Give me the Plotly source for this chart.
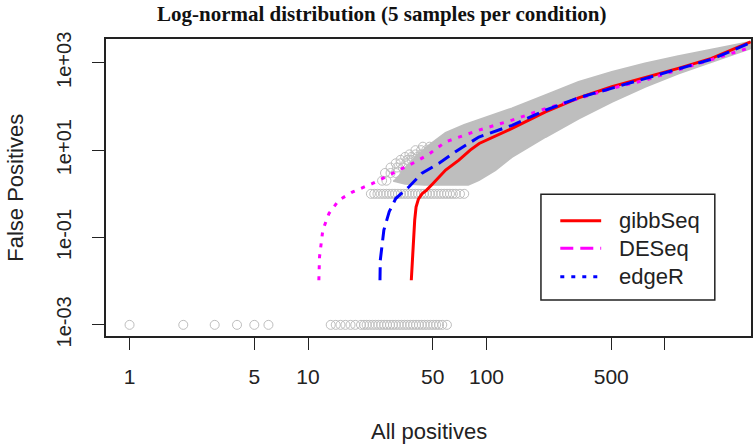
import plotly.graph_objects as go

# ---------------- data ----------------
# method curves: all positives (x) vs mean false positives (y)
gibb_x = [37.9, 38.2, 38.5, 39.0, 39.6, 40.3, 41.5, 43.5, 46, 50, 59, 70, 81, 91, 139, 214, 328, 504, 773, 1186, 1822, 3020]
gibb_y = [0.0105, 0.02, 0.05, 0.12, 0.25, 0.5, 0.75, 1.0, 1.2, 1.7, 3.5, 5.9, 10, 14.2, 31.4, 75, 158, 282, 450, 744, 1260, 3020]

edger_x = [25.3, 25.4, 26.6, 28.5, 31, 36.8, 43.5, 54.2, 67, 90.6, 139, 214, 328, 504, 773, 1186, 1822, 3020]
edger_y = [0.0105, 0.03, 0.148, 0.39, 0.78, 1.45, 2.95, 5.0, 9.2, 20, 37, 82, 158, 260, 440, 710, 1200, 2900]

deseq_x = [11.5, 11.6, 12.1, 13.1, 14.9, 17.8, 23.0, 29.7, 40, 47.6, 59, 90.6, 139, 214, 328, 504, 773, 1186, 1822, 2900]
deseq_y = [0.0105, 0.036, 0.148, 0.355, 0.72, 1.11, 1.73, 2.93, 5.4, 8.1, 15.5, 28.7, 48.6, 89, 151, 260, 400, 680, 1150, 2130]

# simulation runs: zero false positives (drawn at 1e-3)
zero_fp_x = [1, 2, 3, 4, 5, 6,
             13.4, 14.3, 15.2, 16.2, 17.3, 18.4, 19.8, 20.6, 21.3, 22.1, 23.0, 23.9, 24.8, 25.7,
             26.7, 27.7, 28.8, 29.9, 31.0, 32.2, 33.4, 34.7, 36.0, 37.4, 38.8, 40.3, 41.8, 43.4,
             45.0, 46.7, 48.5, 50.3, 52.2, 54.2, 56.5, 60.0]
zero_fp_level = 0.001

# simulation runs: one false positive
one_fp_x = [22.5, 23.5, 24.5, 25.5, 26.5, 27.5, 28.5, 29.6, 30.7, 31.9, 33.1, 34.4, 35.7, 37.0,
            38.4, 39.9, 41.4, 43.0, 44.6, 46.3, 48.1, 49.9, 51.8, 53.8, 55.8, 57.9, 60.1, 62.4,
            64.8, 67.3, 71.0, 75.0]
one_fp_level = 1

# sparse runs at the upper-left frontier of the cloud
sparse_x = [26, 27.5, 27, 29, 31, 29, 31.5, 34, 31, 33, 35.5, 33, 36, 38, 35, 38, 41, 37, 40, 43, 40, 43, 46, 44, 48]
sparse_y = [2, 2, 3, 3, 3, 4, 4, 4, 5, 5, 5, 6, 6, 6, 7, 7, 7, 8, 8, 8, 10, 10, 10, 12, 12]

# outline of the dense cloud of runs
cloud_upper_x = [33, 36, 40, 47.6, 59, 75, 90.6, 139, 214, 328, 504, 773, 1186, 1822, 3020]
cloud_upper_y = [3.0, 4.5, 7, 13, 25, 38, 50, 90, 182, 366, 621, 966, 1419, 2024, 3020]
cloud_lower_x = [3020, 1822, 1186, 773, 504, 328, 214, 139, 112, 90.6, 79, 60, 45, 35, 30]
cloud_lower_y = [2133, 1052, 570, 282, 128, 53, 20, 7.0, 3.5, 2.06, 1.62, 1.62, 1.62, 1.7, 2.0]

x_tickvals = [1, 5, 10, 50, 100, 500, 1000]
x_ticktext = ["1", "5", "10", "50", "100", "500", ""]
y_tickvals = [1e-3, 1e-1, 1e1, 1e3]
y_ticktext = ["1e-03", "1e-01", "1e+01", "1e+03"]

legend_names = ["gibbSeq", "DESeq", "edgeR"]
legend_colors = ["#FF0000", "#FF00FF", "#0000FF"]
legend_dashes = ["solid", "13px,7px", "4px,7px"]

GRAY = "#BEBEBE"
INK = "#222222"
FONT = "Liberation Sans, Arial, sans-serif"

fig = go.Figure()

# dense cloud
fig.add_trace(go.Scatter(
    x=cloud_upper_x + cloud_lower_x, y=cloud_upper_y + cloud_lower_y,
    mode="lines", fill="toself", fillcolor=GRAY,
    line=dict(color=GRAY, width=2), showlegend=False, hoverinfo="skip"))

circle = dict(symbol="circle-open", size=9, color=GRAY, line=dict(width=1, color=GRAY))
fig.add_trace(go.Scatter(x=sparse_x, y=sparse_y, mode="markers", marker=circle, showlegend=False))
fig.add_trace(go.Scatter(x=one_fp_x, y=[one_fp_level] * len(one_fp_x), mode="markers",
                         marker=circle, showlegend=False))
fig.add_trace(go.Scatter(x=zero_fp_x, y=[zero_fp_level] * len(zero_fp_x), mode="markers",
                         marker=circle, showlegend=False))

# curves (as drawn in the plot)
fig.add_trace(go.Scatter(x=gibb_x, y=gibb_y, mode="lines", showlegend=False, name=legend_names[0],
                         line=dict(color=legend_colors[0], width=3)))
fig.add_trace(go.Scatter(x=deseq_x, y=deseq_y, mode="lines", showlegend=False, name=legend_names[1],
                         line=dict(color=legend_colors[1], width=3, dash="4px,7px")))
fig.add_trace(go.Scatter(x=edger_x, y=edger_y, mode="lines", showlegend=False, name=legend_names[2],
                         line=dict(color=legend_colors[2], width=3, dash="13px,7px")))

# ---- legend box drawn in paper coordinates ----
def px2paper_x(px):
    return (px - 106) / 647.0

def px2paper_y(py):
    return (336 - py) / 297.0

shapes = [dict(type="rect", xref="paper", yref="paper",
               x0=px2paper_x(542.3), x1=px2paper_x(716.7),
               y0=px2paper_y(300), y1=px2paper_y(194.3),
               line=dict(color=INK, width=1.5), fillcolor="white", layer="above")]
annotations = []
row_py = [220.7, 248.3, 276.7]
for n, c, d, py in zip(legend_names, legend_colors, legend_dashes, row_py):
    shapes.append(dict(type="line", xref="paper", yref="paper",
                       x0=px2paper_x(561.7), x1=px2paper_x(602.7),
                       y0=px2paper_y(py), y1=px2paper_y(py),
                       line=dict(color=c, width=3, dash=d), layer="above"))
    annotations.append(dict(text=n, xref="paper", yref="paper",
                            x=px2paper_x(619), y=px2paper_y(py), xanchor="left", yanchor="middle",
                            showarrow=False, font=dict(size=22, color=INK)))

annotations += [
    dict(text="<b>Log-normal distribution (5 samples per condition)</b>",
         xref="paper", yref="paper", x=px2paper_x(382), y=px2paper_y(14), xanchor="center", yanchor="middle",
         showarrow=False, font=dict(family="Liberation Serif, Times New Roman, serif", size=21, color="#111111")),
    dict(text="All positives", xref="paper", yref="paper", x=0.5, y=px2paper_y(431),
         xanchor="center", yanchor="middle", showarrow=False, font=dict(size=22, color=INK)),
    dict(text="False Positives", xref="paper", yref="paper", x=px2paper_x(15), y=0.5,
         xanchor="center", yanchor="middle", textangle=-90, showarrow=False, font=dict(size=22, color=INK)),
]

fig.update_layout(
    width=754, height=444,
    margin=dict(l=106, r=1, t=39, b=108),
    paper_bgcolor="white", plot_bgcolor="white",
    font=dict(family=FONT, color=INK, size=20),
    showlegend=False,
    xaxis=dict(type="log", range=[-0.132, 3.482], tickvals=x_tickvals, ticktext=x_ticktext,
               ticks="outside", ticklen=12, tickwidth=1.2, tickcolor=INK,
               showline=True, linecolor=INK, linewidth=1.5, mirror=True,
               showgrid=False, zeroline=False, ticklabelstandoff=9,
               tickfont=dict(size=21)),
    yaxis=dict(type="log", range=[-3.255, 3.545], tickvals=y_tickvals, ticktext=y_ticktext,
               ticks="outside", ticklen=12, tickwidth=1.2, tickcolor=INK,
               showline=True, linecolor=INK, linewidth=1.5, mirror=True,
               showgrid=False, zeroline=False, tickangle=-90, ticklabelstandoff=13,
               tickfont=dict(size=20)),
    shapes=shapes,
    annotations=annotations,
)

fig.write_html("out.html", config={"displayModeBar": False},
               post_script="document.body.style.margin='0';")
